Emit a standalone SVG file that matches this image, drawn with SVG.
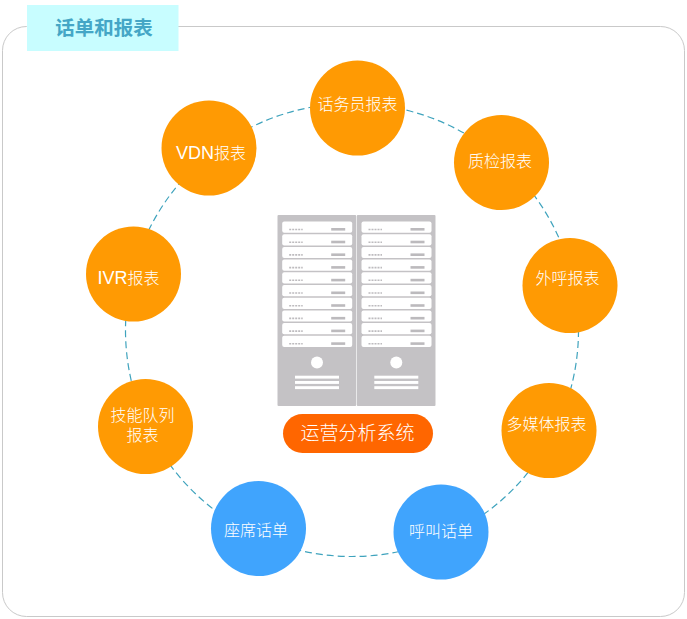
<svg xmlns="http://www.w3.org/2000/svg" xmlns:xlink="http://www.w3.org/1999/xlink" width="687" height="619" viewBox="0 0 687 619">
<style>
text{font-family:"Liberation Sans","Noto Sans CJK SC",sans-serif;text-anchor:middle}
.l{font-size:16px;fill:#fff;font-weight:300}
.s{font-size:18px;font-weight:400}
.o{fill:#ff9a03}
.b{fill:#40a4fd}
.bay{fill:#c4c2c5}
.w{fill:#fff}
.g{fill:#bcbabd}
</style>
<defs>
<g id="row">
<rect x="0" y="0" width="70" height="11.2" rx="2" class="w"/>
<line x1="7" y1="8" x2="20.500" y2="8" stroke="#bdbbbe" stroke-width="1.600" stroke-dasharray="2 1"/>
<rect x="49" y="6.500" width="14" height="2.600" class="g"/>
</g>
<g id="bay">
<rect x="0" y="0" width="78.700" height="191" rx="1" class="bay"/>
<use xlink:href="#row" x="4.700" y="6.500"/>
<use xlink:href="#row" x="4.700" y="19.200"/>
<use xlink:href="#row" x="4.700" y="31.900"/>
<use xlink:href="#row" x="4.700" y="44.600"/>
<use xlink:href="#row" x="4.700" y="57.300"/>
<use xlink:href="#row" x="4.700" y="70"/>
<use xlink:href="#row" x="4.700" y="82.700"/>
<use xlink:href="#row" x="4.700" y="95.400"/>
<use xlink:href="#row" x="4.700" y="108.100"/>
<use xlink:href="#row" x="4.700" y="120.800"/>
<circle cx="39.500" cy="147.500" r="6" class="w"/>
<rect x="17.500" y="160.700" width="44" height="2.900" class="w"/>
<rect x="17.500" y="166" width="44" height="2.900" class="w"/>
<rect x="17.500" y="171.200" width="44" height="2.900" class="w"/>
</g>
</defs>
<rect x="2.500" y="26.500" width="682" height="590" rx="24" fill="#fff" stroke="#c9c9c9"/>
<g id="title">
<rect x="27" y="5" width="151.500" height="46" fill="#c8fdff"/>
<text x="104" y="35" font-size="19.500" font-weight="700" fill="#44a6c6">话单和报表</text>
</g>
<g id="connectors">
<circle cx="352" cy="330" r="226.500" fill="none" stroke="#3fa3bd" stroke-width="1.200" stroke-dasharray="7 4"/>
</g>
<g id="server">
<use xlink:href="#bay" x="277.500" y="215"/>
<use xlink:href="#bay" x="356.800" y="215"/>
</g>
<g id="system">
<rect x="283" y="414" width="150" height="39" rx="19.500" fill="#ff6600"/>
<text x="357.500" y="439.500" font-size="19" font-weight="300" fill="#fff">运营分析系统</text>
</g>
<g id="n1"><circle cx="357.500" cy="108" r="47.500" class="o"/><text class="l" x="357.500" y="109.500">话务员报表</text></g>
<g id="n2"><circle cx="501.500" cy="162.500" r="47.500" class="o"/><text class="l" x="500" y="166.500">质检报表</text></g>
<g id="n3"><circle cx="570" cy="285.500" r="47.500" class="o"/><text class="l" x="567.500" y="283.500">外呼报表</text></g>
<g id="n4"><circle cx="549" cy="430.500" r="47.500" class="o"/><text class="l" x="546.500" y="429.500">多媒体报表</text></g>
<g id="n5"><circle cx="441" cy="532" r="47.500" class="b"/><text class="l" x="441" y="536.500">呼叫话单</text></g>
<g id="n6"><circle cx="258.500" cy="528.500" r="47.500" class="b"/><text class="l" x="256" y="536">座席话单</text></g>
<g id="n7"><circle cx="145.500" cy="426.500" r="47.500" class="o"/><text class="l" x="142.500" y="420.500">技能队列<tspan x="142.500" y="440.500">报表</tspan></text></g>
<g id="n8"><circle cx="133.500" cy="274" r="47.500" class="o"/><text class="l" x="128.500" y="283.500"><tspan class="s">IVR</tspan>报表</text></g>
<g id="n9"><circle cx="209" cy="148" r="47.500" class="o"/><text class="l" x="211" y="158.500"><tspan class="s">VDN</tspan>报表</text></g>
</svg>
